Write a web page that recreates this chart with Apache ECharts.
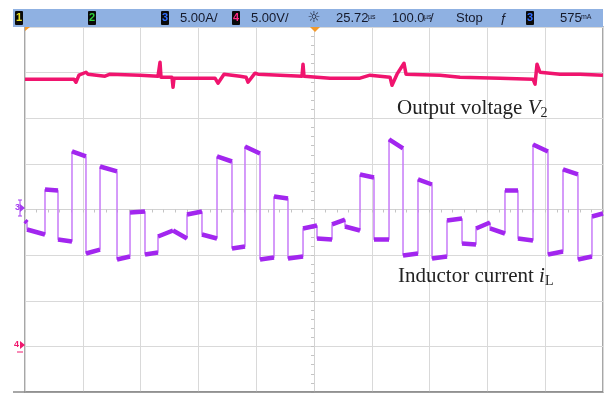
<!DOCTYPE html>
<html>
<head>
<meta charset="utf-8">
<script src="https://cdn.jsdelivr.net/npm/echarts@6/dist/echarts.min.js"></script>
<style>
  html, body { margin: 0; padding: 0; background: #ffffff; }
  #main { width: 605px; height: 393px; }
</style>
</head>
<body>
<div id="main"></div>
<script>
// Time axis: 100 us/div, 10 divisions, trigger at the centre (t = 0)
const timeRange = [-500, 500];
const timeStep = 100;
// Channel 3 (inductor current): 5 A/div, reference at the centre line
const currentRange = [-20, 20];
const currentStep = 5;
// Channel 4 (output voltage): 5 V/div, reference three divisions below centre
const voltageRange = [-5, 35];

// Inductor current: each plateau starts at iTimes[k] with iStart[k] and ends with iEnd[k]
const iTimes = [-500, -496.5, -465.4, -442.9, -418.7, -394.5, -370.2, -340.8, -318.3, -292.4,
  -269.9, -243.9, -219.7, -193.8, -167.8, -141.9, -119.4, -93.4, -69.2, -45.0,
  -19.0, 5.2, 31.2, 53.6, 79.6, 103.8, 129.8, 154.0, 179.9, 204.2,
  230.1, 256.1, 280.3, 304.5, 330.4, 352.9, 378.9, 404.8, 430.8, 456.7, 480.9];
const iEndTime = 500;
const iStart = [-1.21, -2.19, 2.19, -3.29, 6.36, -4.82, 4.71, -5.48, -0.33, -4.93,
  -2.96, -2.30, -0.55, -2.74, 5.81, -4.28, 6.91, -5.48, 1.43, -5.37,
  -2.08, -3.18, -1.64, -1.86, 3.84, -3.29, 7.68, -5.04, 3.29, -5.37,
  -1.21, -3.73, -2.08, -2.08, 2.08, -3.18, 7.13, -4.93, 4.39, -5.48, -0.77];
const iEnd = [-1.43, -2.74, 2.08, -3.51, 5.81, -4.39, 4.17, -5.15, -0.22, -4.71,
  -2.30, -3.18, -0.22, -3.18, 5.26, -4.06, 6.14, -5.26, 1.21, -5.15,
  -1.75, -3.29, -1.10, -2.30, 3.51, -3.29, 6.69, -4.82, 2.74, -5.15,
  -0.99, -3.84, -1.43, -2.63, 2.08, -3.40, 6.36, -4.61, 3.84, -5.15, -0.44];

// Output voltage trace (V) with its switching spikes
const vTimes = [-500, -456.7, -415.2, -411.8, -406.6, -394.5, -391.0, -361.6, -352.9, -301.0,
  -269.9, -266.4, -264.7, -245.7, -243.9, -242.2, -171.3, -166.1, -155.7, -128.0,
  -117.6, -114.2, -102.1, -96.9, -58.8, -20.8, -19.0, -17.3, 27.7, 79.6,
  96.9, 131.5, 135.0, 143.6, 155.7, 159.2, 218.0, 252.6, 321.8, 378.9,
  382.4, 385.8, 391.0, 425.6, 460.2, 500];
const vValues = [29.28, 29.28, 29.28, 28.95, 29.72, 30.04, 29.83, 29.61, 29.83, 29.72,
  29.61, 31.14, 29.50, 29.50, 28.40, 29.39, 29.39, 28.84, 29.83, 29.61,
  29.50, 28.95, 29.94, 29.83, 29.72, 29.61, 30.92, 29.61, 29.39, 29.39,
  29.72, 29.50, 28.62, 29.83, 31.03, 29.83, 29.72, 29.50, 29.39, 29.28,
  28.73, 30.92, 30.04, 29.83, 29.83, 29.72];

// Build the current trace: full path (edges) and plateau-only path
const currentPath = [];
const currentPlateaus = [];
for (let k = 0; k < iTimes.length; k++) {
  const t1 = k + 1 < iTimes.length ? iTimes[k + 1] : iEndTime;
  currentPath.push([iTimes[k], iStart[k]], [t1, iEnd[k]]);
  currentPlateaus.push([iTimes[k], iStart[k]], [t1, iEnd[k]], ['-', '-']);
}
const voltagePath = vTimes.map((t, k) => [t, vValues[k]]);

const chart = echarts.init(document.getElementById('main'), null, { renderer: 'canvas' });

const barFont = 'Liberation Sans, Arial, sans-serif';
function chanBox(x, label, color) {
  return [
    { type: 'rect', shape: { x: x, y: 11, width: 8, height: 14, r: 1 }, style: { fill: '#0a0a0a' }, z: 20 },
    { type: 'text', x: x + 4, y: 18, z: 21,
      style: { text: label, fill: color, font: 'bold 11px ' + barFont, align: 'center', verticalAlign: 'middle' } }
  ];
}
function barText(x, text, small) {
  const items = [{ type: 'text', x: x, y: 18.5, z: 21,
    style: { text: text, fill: '#15192a', font: '13px ' + barFont, verticalAlign: 'middle' } }];
  return items;
}
function unitText(x, text) {
  return { type: 'text', x: x, y: 17, z: 21,
    style: { text: text, fill: '#15192a', font: '7px ' + barFont, verticalAlign: 'middle' } };
}

const graphics = [
  // status bar
  { type: 'rect', shape: { x: 13, y: 9, width: 590, height: 18 }, style: { fill: '#8fb1e2' }, z: 19 },
  ...chanBox(15, '1', '#e6e022'),
  ...chanBox(88, '2', '#2fd13a'),
  ...chanBox(161, '3', '#2f6dff'),
  ...barText(180, '5.00A/'),
  ...chanBox(232, '4', '#ff2a86'),
  ...barText(251, '5.00V/'),
  { type: 'text', x: 314, y: 18, z: 21,
    style: { text: '\u263C', fill: '#15192a', font: '15px DejaVu Sans', align: 'center', verticalAlign: 'middle' } },
  ...barText(336, '25.72'),
  unitText(368, 'µs'),
  ...barText(392, '100.0'),
  unitText(424, 'µs'),
  { type: 'text', x: 430, y: 18.5, z: 21, style: { text: '/', fill: '#15192a', font: '13px ' + barFont, verticalAlign: 'middle' } },
  ...barText(456, 'Stop'),
  { type: 'text', x: 503, y: 18.5, z: 21,
    style: { text: 'ƒ', fill: '#15192a', font: 'italic 13px ' + barFont, align: 'center', verticalAlign: 'middle' } },
  ...chanBox(526, '3', '#2f6dff'),
  ...barText(560, '575'),
  unitText(581, 'mA'),
  // trigger and time reference markers
  { type: 'polygon', shape: { points: [[310, 27], [320, 27], [315, 32]] }, style: { fill: '#f39a2c' }, z: 22 },
  { type: 'polygon', shape: { points: [[25, 27], [30, 27], [25, 31]] }, style: { fill: '#f39a2c' }, z: 22 },
  // channel ground markers
  { type: 'text', x: 15, y: 208, z: 22, style: { text: '3', fill: '#a43cf0', font: 'bold 9px ' + barFont, verticalAlign: 'middle' } },
  { type: 'polygon', shape: { points: [[20, 204], [25, 208], [20, 212]] }, style: { fill: '#a43cf0' }, z: 22 },
  { type: 'line', shape: { x1: 18, y1: 200, x2: 22, y2: 200 }, style: { stroke: '#a43cf0', lineWidth: 1 }, z: 22 },
  { type: 'line', shape: { x1: 18, y1: 216, x2: 22, y2: 216 }, style: { stroke: '#a43cf0', lineWidth: 1 }, z: 22 },
  { type: 'line', shape: { x1: 20, y1: 200, x2: 20, y2: 216 }, style: { stroke: '#a43cf0', lineWidth: 1 }, z: 22 },
  { type: 'text', x: 14, y: 345, z: 22, style: { text: '4', fill: '#f0186e', font: 'bold 9px ' + barFont, verticalAlign: 'middle' } },
  { type: 'polygon', shape: { points: [[20, 341], [25, 345], [20, 349]] }, style: { fill: '#f0186e' }, z: 22 },
  { type: 'line', shape: { x1: 17, y1: 352, x2: 23, y2: 352 }, style: { stroke: '#f0186e', lineWidth: 1 }, z: 22 },
  // bottom frame line
  { type: 'line', shape: { x1: 13, y1: 392, x2: 603, y2: 392 }, style: { stroke: '#8a8a8a', lineWidth: 1.5 }, z: 22 },
  // trace annotations
  { type: 'text', x: 397, y: 108, z: 23,
    style: {
      text: '{a|Output voltage }{v|V}{s|2}', verticalAlign: 'middle',
      rich: {
        a: { font: '21px Liberation Serif', fill: '#222222' },
        v: { font: 'italic 21px Liberation Serif', fill: '#222222' },
        s: { font: '14px Liberation Serif', fill: '#222222', padding: [10, 0, 0, 0] }
      }
    } },
  { type: 'text', x: 398, y: 276, z: 23,
    style: {
      text: '{a|Inductor current }{v|i}{s|L}', verticalAlign: 'middle',
      rich: {
        a: { font: '21px Liberation Serif', fill: '#222222' },
        v: { font: 'italic 21px Liberation Serif', fill: '#222222' },
        s: { font: '14px Liberation Serif', fill: '#222222', padding: [10, 0, 0, 0] }
      }
    } }
];

const option = {
  animation: false,
  backgroundColor: '#ffffff',
  grid: { left: 25, top: 27, right: 2, bottom: 1, show: true, borderColor: '#8a8a8a', borderWidth: 1.5, backgroundColor: 'transparent' },
  xAxis: {
    type: 'value', min: timeRange[0], max: timeRange[1], interval: timeStep,
    axisLine: { show: true, onZero: true, lineStyle: { color: '#d2d2d2', width: 1 } },
    axisTick: { show: true, length: 3, lineStyle: { color: '#c4c4c4' } },
    minorTick: { show: true, splitNumber: 5, length: 3, lineStyle: { color: '#c4c4c4' } },
    axisLabel: { show: false },
    splitLine: { show: true, lineStyle: { color: '#d9d9d9', width: 1 } }
  },
  yAxis: [
    {
      type: 'value', min: currentRange[0], max: currentRange[1], interval: currentStep,
      axisLine: { show: true, onZero: true, lineStyle: { color: '#d2d2d2', width: 1 } },
      axisTick: { show: true, length: 3, lineStyle: { color: '#c4c4c4' } },
      minorTick: { show: true, splitNumber: 5, length: 3, lineStyle: { color: '#c4c4c4' } },
      axisLabel: { show: false },
      splitLine: { show: true, lineStyle: { color: '#d9d9d9', width: 1 } }
    },
    {
      type: 'value', min: voltageRange[0], max: voltageRange[1],
      show: false, splitLine: { show: false }
    }
  ],
  graphic: graphics,
  series: [
    {
      name: 'Output voltage', type: 'line', yAxisIndex: 1, data: voltagePath,
      showSymbol: false, symbol: 'none',
      lineStyle: { color: '#f0146e', width: 3.5, join: 'round' }, z: 5
    },
    {
      name: 'Inductor current edges', type: 'line', yAxisIndex: 0, data: currentPath,
      showSymbol: false, symbol: 'none',
      lineStyle: { color: '#c77af8', width: 1.5 }, z: 5
    },
    {
      name: 'Inductor current', type: 'line', yAxisIndex: 0, data: currentPlateaus,
      showSymbol: false, symbol: 'none', connectNulls: false,
      lineStyle: { color: '#a226ef', width: 4.5, cap: 'butt' }, z: 6
    }
  ]
};
chart.setOption(option);
</script>
</body>
</html>
